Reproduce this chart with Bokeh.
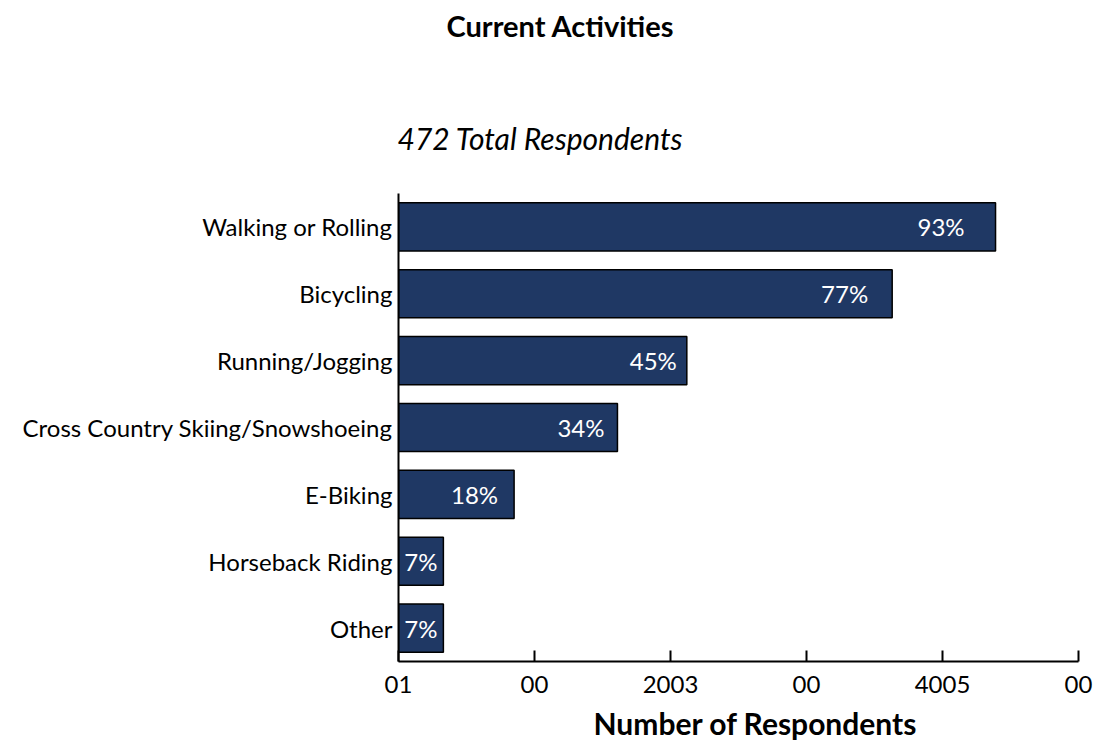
from bokeh.plotting import figure
from bokeh.models import FactorRange, Range1d, FixedTicker, Title, ColumnDataSource
from bokeh.core.properties import value
from bokeh.embed import file_html
from bokeh.resources import INLINE

# ---- data ----
categories = ["Walking or Rolling", "Bicycling", "Running/Jogging",
              "Cross Country Skiing/Snowshoeing", "E-Biking",
              "Horseback Riding", "Other"]
counts = [439, 363, 212, 161, 85, 33, 33]
pct_labels = ["93%", "77%", "45%", "34%", "18%", "7%", "7%"]
x_ticks = [0, 100, 200, 300, 400, 500]
x_tick_labels = ["01", "00", "2003", "00", "4005", "00"]
title_text = "Current Activities"
subtitle_text = "472 Total Respondents"
x_axis_title = "Number of Respondents"

# ---- style ----
FONT = "Lato"
FS = "24px"
BAR_COLOR = "#1F3864"
label_pad_px = [-31, -24, -10, -13, -16, -6, -6]

src = ColumnDataSource(dict(cat=categories, n=counts, lab=pct_labels, pad=label_pad_px))

p = figure(y_range=FactorRange(factors=list(reversed(categories)), range_padding=0),
           x_range=Range1d(0, 500),
           frame_width=680, frame_height=468,
           min_border_left=398, min_border_right=15,
           min_border_top=193, min_border_bottom=88,
           output_backend="svg", toolbar_location=None,
           background_fill_color="white", border_fill_color="white")
p.outline_line_color = None
p.xgrid.grid_line_color = None
p.ygrid.grid_line_color = None

p.hbar(y="cat", right="n", left=0, height=0.72, source=src,
       fill_color=BAR_COLOR, line_color="black", line_width=1.5)

p.text(x="n", y="cat", text="lab", x_offset="pad", source=src,
       text_align="right", text_baseline="middle",
       text_color="white", text_font=value(FONT), text_font_size=FS)

# x axis
xa = p.xaxis[0]
xa.ticker = FixedTicker(ticks=x_ticks)
xa.major_label_overrides = {t: l for t, l in zip(x_ticks, x_tick_labels)}
xa.major_tick_in = 11
xa.major_tick_out = 0
xa.minor_tick_in = 0
xa.minor_tick_out = 0
xa.major_tick_line_color = "black"
xa.major_tick_line_width = 2
xa.axis_line_color = "black"
xa.axis_line_width = 2
xa.major_label_text_font = FONT
xa.major_label_text_font_size = FS
xa.major_label_text_color = "black"
xa.major_label_standoff = 14

# y axis
ya = p.yaxis[0]
ya.major_tick_in = 0
ya.major_tick_out = 0
ya.minor_tick_in = 0
ya.minor_tick_out = 0
ya.axis_line_color = "black"
ya.axis_line_width = 2
ya.major_label_text_font = FONT
ya.major_label_text_font_size = FS
ya.major_label_text_color = "black"
ya.major_label_standoff = 6

# main title (outermost); the trailing line break leaves a gap below it
p.title.text = title_text + "\n"
p.title.align = "left"
p.title.offset = 48
p.title.text_font = FONT
p.title.text_font_size = "29px"
p.title.text_font_style = "bold"
p.title.text_color = "black"
p.title.standoff = 6

# subtitle next to the frame
p.add_layout(Title(text=subtitle_text, align="left", offset=-1,
                   text_font=FONT, text_font_size="30px", text_font_style="italic",
                   text_color="black", standoff=75), "above")

# axis title below the tick labels
p.add_layout(Title(text=x_axis_title, align="left", offset=195,
                   text_font=FONT, text_font_size="30px", text_font_style="bold",
                   text_color="black", standoff=14), "below")

open("out.html", "w").write(file_html(p, INLINE))
